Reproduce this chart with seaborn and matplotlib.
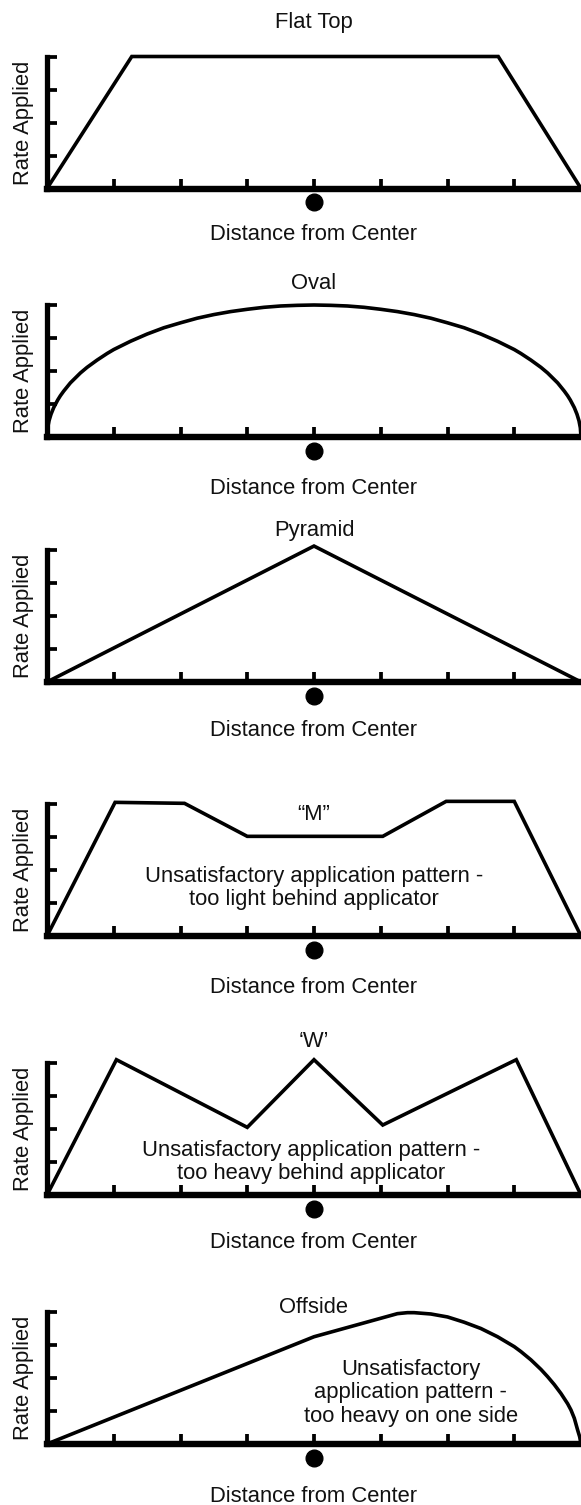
import matplotlib
matplotlib.use("Agg")
import matplotlib.pyplot as plt
import seaborn as sns

# distance axis runs 0..8, applicator center sits at 4; rate axis 0..4
center = 4

flat_x = [0, 1.27, 6.76, 8]
flat_y = [0, 4.0, 4.0, 0]

oval_x = [0, 0.01, 0.03, 0.06, 0.1, 0.16, 0.2, 0.25, 0.35, 0.5, 0.6, 0.75, 0.9, 1, 1.25, 1.5,
          1.75, 2, 2.25, 2.5, 2.75, 3, 3.25, 3.5, 3.75, 4, 4.25, 4.5, 4.75, 5, 5.25, 5.5,
          5.75, 6, 6.25, 6.5, 6.75, 7, 7.1, 7.25, 7.4, 7.5, 7.65, 7.75, 7.8, 7.84, 7.9,
          7.94, 7.97, 7.99, 8]
oval_y = [0, 0.28, 0.49, 0.69, 0.89, 1.12, 1.25, 1.39, 1.64, 1.94, 2.11, 2.33, 2.53, 2.65, 2.90, 3.12,
          3.31, 3.46, 3.60, 3.71, 3.80, 3.87, 3.93, 3.97, 3.99, 4.0, 3.99, 3.97, 3.93, 3.87, 3.80, 3.71,
          3.60, 3.46, 3.31, 3.12, 2.90, 2.65, 2.53, 2.33, 2.11, 1.94, 1.64, 1.39, 1.25, 1.12, 0.89,
          0.69, 0.49, 0.28, 0]

pyramid_x = [0, 4, 8]
pyramid_y = [0, 4.12, 0]

m_x = [0, 1.02, 2.06, 3.0, 5.03, 5.98, 7.0, 8]
m_y = [0, 4.05, 4.02, 3.02, 3.02, 4.08, 4.08, 0]

w_x = [0, 1.04, 3.0, 4.0, 5.03, 7.03, 8]
w_y = [0, 4.1, 2.05, 4.1, 2.12, 4.1, 0]

offside_x = [0, 4.0, 5.25, 5.4, 5.5, 5.75, 6.0, 6.25, 6.5, 6.75, 7.0, 7.1, 7.25, 7.4, 7.5,
             7.6, 7.7, 7.8, 7.85, 7.9, 7.95, 7.98, 8.0]
offside_y = [0, 3.25, 3.95, 3.98, 3.98, 3.94, 3.85, 3.69, 3.5, 3.25, 2.95, 2.8, 2.55, 2.26, 2.04,
             1.8, 1.53, 1.22, 1.03, 0.78, 0.42, 0.22, 0]

titles = ["Flat Top", "Oval", "Pyramid", "\u201cM\u201d", "\u2018W\u2019", "Offside"]
notes = [
    None,
    None,
    None,
    "Unsatisfactory application pattern -\ntoo light behind applicator",
    "Unsatisfactory application pattern -\ntoo heavy behind applicator",
    "Unsatisfactory\napplication pattern -\ntoo heavy on one side",
]
series = [(flat_x, flat_y), (oval_x, oval_y), (pyramid_x, pyramid_y),
          (m_x, m_y), (w_x, w_y), (offside_x, offside_y)]

# layout (pixels / data units)
bottoms = [188.5, 437, 682, 936, 1195, 1444]
title_y = [5.03, 4.64, 4.6, 3.67, 4.64, 4.15]
note_pos = [None, None, None, (4.0, 1.45), (3.95, 1.0), (5.45, 1.55)]
xlabel_off = [44, 50, 46, 49, 45, 51]

sns.set_theme(style="white")
plt.rcParams["font.family"] = ["Liberation Sans", "DejaVu Sans"]
fs = 15.8

W, H = 581, 1505
fig = plt.figure(figsize=(W / 100, H / 100), dpi=100)
ax_h = 132

for i, (xs, ys) in enumerate(series):
    ax = fig.add_axes([47 / W, 1 - bottoms[i] / H, 534 / W, ax_h / H])
    ax.patch.set_alpha(0)
    sns.lineplot(x=xs, y=ys, ax=ax, sort=False, estimator=None, color="black",
                 linewidth=2.6, clip_on=False, solid_joinstyle="miter")
    ax.plot(center, -0.41, "o", color="black", markersize=12, clip_on=False)

    ax.set_xlim(0, 8)
    ax.set_ylim(0, 4)
    ax.set_xticks(range(1, 8))
    ax.set_yticks([1, 2, 3, 4])
    ax.tick_params(bottom=True, left=True, direction="in", length=7.4, width=2.7,
                   colors="black", labelbottom=False, labelleft=False)
    sns.despine(ax=ax)
    ax.spines["bottom"].set_linewidth(4.6)
    ax.spines["left"].set_linewidth(3.8)
    for s in ("bottom", "left"):
        ax.spines[s].set_color("black")
    ax.set_xlabel("")
    ax.set_ylabel("")

    ax.text(center, title_y[i], titles[i], ha="center", va="center", fontsize=fs, color="#111111")
    if notes[i]:
        nx, ny = note_pos[i]
        ax.text(nx, ny, notes[i], ha="center", va="center", fontsize=fs,
                color="#111111", linespacing=1.15)
    ax.text(-0.044, 0.5, "Rate Applied", rotation=90, transform=ax.transAxes,
            ha="center", va="center", fontsize=fs, color="#111111")
    ax.text(0.5, -(xlabel_off[i] + 2) / ax_h, "Distance from Center", transform=ax.transAxes,
            ha="center", va="center", fontsize=fs, color="#111111")

fig.savefig("out.png", dpi=100, facecolor="white")
